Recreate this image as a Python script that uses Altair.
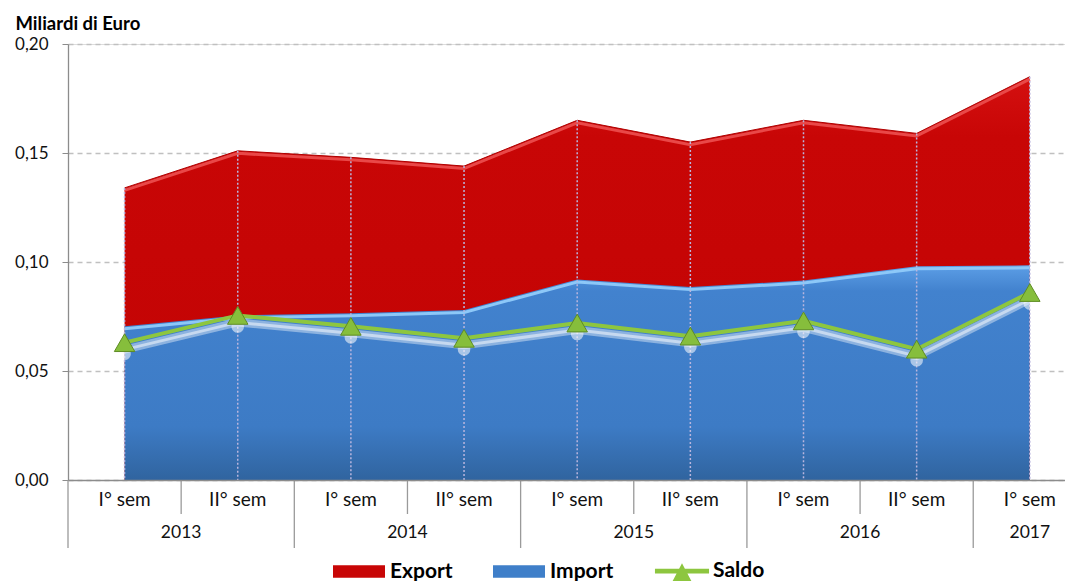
import altair as alt
import pandas as pd

periods = ["I° sem", "II° sem", "I° sem", "II° sem", "I° sem", "II° sem", "I° sem", "II° sem", "I° sem"]
years = ["2013", "2013", "2014", "2014", "2015", "2015", "2016", "2016", "2017"]
export_vals = [0.134, 0.151, 0.148, 0.144, 0.165, 0.155, 0.165, 0.159, 0.185]
import_vals = [0.0705, 0.0755, 0.0765, 0.078, 0.092, 0.0885, 0.0915, 0.098, 0.0985]
saldo_vals = [0.063, 0.0755, 0.0705, 0.065, 0.072, 0.066, 0.073, 0.060, 0.086]
series_names = ["Export", "Import", "Saldo"]
series_colors = ["#C80606", "#3F7FC9", "#8DC63F"]
y_ticks = [0.0, 0.05, 0.10, 0.15, 0.20]

FONT = "Lato"

df = pd.DataFrame({
    "idx": list(range(len(periods))),
    "period": periods,
    "year": years,
    "export": export_vals,
    "import": import_vals,
    "saldo": saldo_vals,
})

# year label positions (middle of each year's semesters)
yr = df.groupby("year", sort=False)["idx"].mean().reset_index().rename(columns={"idx": "mid"})

# separators between categories: short inside a year, long between years
seps = [{"pos": -0.5, "kind": "long"}]
for i in range(len(years) - 1):
    seps.append({"pos": i + 0.5, "kind": "short" if years[i] == years[i + 1] else "long"})
sep_df = pd.DataFrame(seps)

xscale = alt.Scale(domain=[-0.5, 8.311], nice=False, zero=False)
yscale = alt.Scale(domain=[0, 0.2], nice=False)

xaxis = alt.Axis(labels=False, ticks=False, grid=False, domain=True, domainColor="#8C8C8C",
                 domainWidth=1.3, title=None, zindex=1)
yaxis = alt.Axis(values=y_ticks, labelExpr="replace(format(datum.value, '.2f'), '.', ',')",
                 grid=True, gridDash=[5, 4], gridColor="#C0C0C0", gridWidth=1.3,
                 domainColor="#8C8C8C", domainWidth=1.3, tickColor="#8C8C8C", tickSize=6,
                 labelFontSize=17, labelColor="#111111", labelPadding=14, labelFont=FONT,
                 title="Miliardi di Euro", titleAngle=0, titleAlign="left", titleBaseline="alphabetic",
                 titleX=-53, titleY=-15, titleFont=FONT, titleFontSize=18.5, titleFontWeight="bold",
                 titleColor="#000000")


def X(field):
    return alt.X(field, scale=xscale, axis=xaxis)


def Y(field):
    return alt.Y(field, scale=yscale, axis=yaxis)


base = alt.Chart(df)

red_area = base.mark_area(
    color=alt.Gradient(gradient="linear", x1=0, x2=0, y1=0, y2=1,
                       stops=[alt.GradientStop(color="#D41010", offset=0),
                              alt.GradientStop(color="#C80606", offset=0.15),
                              alt.GradientStop(color="#C20303", offset=1)])
).encode(x=X("idx:Q"), y=Y("export:Q"))

red_edge = base.mark_line(color="#E94848", strokeWidth=3, yOffset=2.5).encode(x=X("idx:Q"), y=Y("export:Q"))
red_edge2 = base.mark_line(color="#B00000", strokeWidth=1).encode(x=X("idx:Q"), y=Y("export:Q"))

blue_area = base.mark_area(
    color=alt.Gradient(gradient="linear", x1=0, x2=0, y1=0, y2=1,
                       stops=[alt.GradientStop(color="#5C9EE6", offset=0),
                              alt.GradientStop(color="#4282CE", offset=0.12),
                              alt.GradientStop(color="#3D7BC5", offset=0.75),
                              alt.GradientStop(color="#30649F", offset=1)])
).encode(x=X("idx:Q"), y=Y("import:Q"))

blue_edge = base.mark_line(color="#8DC8F8", strokeWidth=3, yOffset=2.5).encode(x=X("idx:Q"), y=Y("import:Q"))

drop_rules = base.mark_rule(color="#B9B5DD", strokeDash=[2, 2], strokeWidth=1.5).encode(
    x=X("idx:Q"), y=Y("export:Q"), y2=alt.datum(0))

glow_line = base.mark_line(color="#FFFFFF", strokeWidth=8, opacity=0.4, yOffset=7).encode(
    x=X("idx:Q"), y=Y("saldo:Q"))
glow_line2 = base.mark_line(color="#FFFFFF", strokeWidth=3, opacity=0.5, yOffset=7).encode(
    x=X("idx:Q"), y=Y("saldo:Q"))
glow_pts = base.mark_point(filled=True, color="#FFFFFF", opacity=0.55, size=160, shape="circle",
                           yOffset=11).encode(x=X("idx:Q"), y=Y("saldo:Q"))

saldo_line = base.mark_line(color="#8DC63F", strokeWidth=4).encode(x=X("idx:Q"), y=Y("saldo:Q"))
saldo_pts = base.mark_point(filled=True, shape="triangle-up", size=420, fill="#86BE3C",
                            stroke="#5E8C24", strokeWidth=1, opacity=1).encode(
    x=X("idx:Q"), y=Y("saldo:Q"))

sep_short = alt.Chart(sep_df).transform_filter(alt.datum.kind == "short").mark_rule(
    color="#9A9A9A", strokeWidth=1.3).encode(x=X("pos:Q"), y=alt.value(436), y2=alt.value(470))
sep_long = alt.Chart(sep_df).transform_filter(alt.datum.kind == "long").mark_rule(
    color="#9A9A9A", strokeWidth=1.3).encode(x=X("pos:Q"), y=alt.value(436), y2=alt.value(504))

sem_text = base.mark_text(font=FONT, fontSize=19, color="#111111", baseline="middle").encode(
    x=X("idx:Q"), y=alt.value(456), text="period:N")
year_text = alt.Chart(yr).mark_text(font=FONT, fontSize=17.5, color="#111111", baseline="middle").encode(
    x=X("mid:Q"), y=alt.value(489), text="year:N")

leg_df = pd.DataFrame({"series": series_names})
paths = ["M-1,-0.24H1V0.24H-1Z", "M-1,-0.24H1V0.24H-1Z",
         "M-1.04,-0.09H1.04V0.09H-1.04Z M-0.38,0.42L0,-0.3L0.38,0.42Z"]
leg = alt.Legend(title=None, orient="none", legendX=265, legendY=501, direction="horizontal",
                 symbolSize=2704, symbolOpacity=1, symbolStrokeWidth=0,
                 labelFont=FONT, labelFontWeight="bold", labelFontSize=21, labelColor="#000000",
                 labelOffset=5, columnPadding=40)
legend_layer = alt.Chart(leg_df).mark_point(filled=True, opacity=0).encode(
    color=alt.Color("series:N", scale=alt.Scale(domain=series_names, range=series_colors), legend=leg),
    shape=alt.Shape("series:N", scale=alt.Scale(domain=series_names, range=paths), legend=leg),
)

chart = alt.layer(
    red_area, red_edge2, red_edge, blue_area, blue_edge, drop_rules,
    glow_line, glow_line2, glow_pts, saldo_line, saldo_pts,
    sep_short, sep_long, sem_text, year_text, legend_layer
).properties(
    width=997, height=436,
    padding={"left": 60, "top": 36, "right": 0, "bottom": 103},
    autosize="none",
).configure_view(stroke=None).configure(font=FONT)

chart.save("out.html", embed_options={"renderer": "svg", "actions": False})
